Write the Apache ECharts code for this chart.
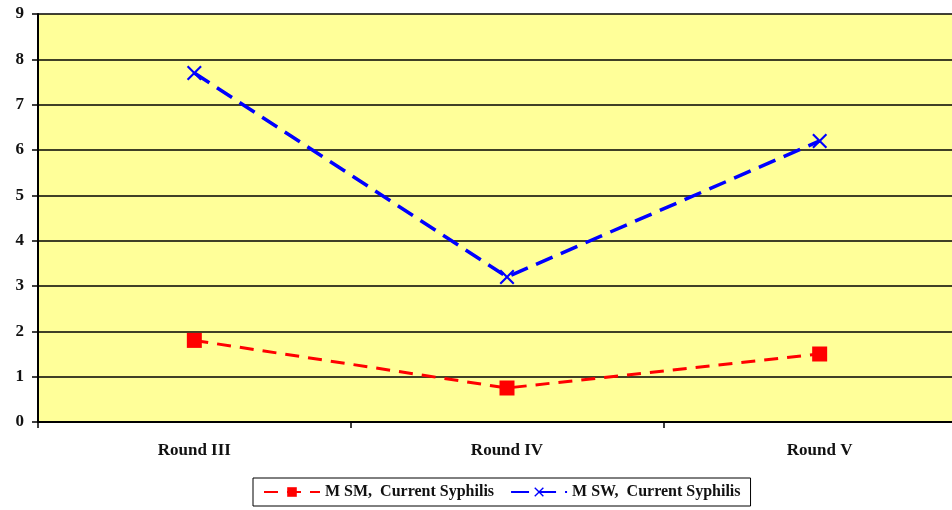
<!DOCTYPE html>
<html><head><meta charset="utf-8">
<script src="https://cdn.jsdelivr.net/npm/echarts@6/dist/echarts.min.js"></script>
<style>html,body{margin:0;padding:0;background:#fff;overflow:hidden}#c{width:976px;height:510px}</style>
</head><body><div id="c"></div>
<script>
const categories = ['Round III', 'Round IV', 'Round V'];
const msmValues = [1.8, 0.75, 1.5];
const mswValues = [7.7, 3.2, 6.2];
const yTicks = [0, 9, 1];
const seriesNames = ['M SM,  Current Syphilis', 'M SW,  Current Syphilis'];

const font = '"Liberation Serif", "Times New Roman", serif';
const crossPath = 'path://M0,1 L1,0 L5,4 L9,0 L10,1 L6,5 L10,9 L9,10 L5,6 L1,10 L0,9 L4,5 Z';

const chart = echarts.init(document.getElementById('c'));
chart.setOption({
  animation: false,
  backgroundColor: '#fff',
  grid: { left: 38, right: 0, top: 14, bottom: 88, show: true, backgroundColor: '#FFFF99', borderWidth: 0 },
  xAxis: {
    type: 'category', data: categories, boundaryGap: true,
    axisLine: { lineStyle: { color: '#000', width: 2 } },
    axisTick: { show: true, length: 6, lineStyle: { color: '#000', width: 1.5 } },
    axisLabel: { color: '#111', fontFamily: font, fontWeight: 'bold', fontSize: 17, margin: 20 }
  },
  yAxis: {
    type: 'value', min: yTicks[0], max: yTicks[1], interval: yTicks[2],
    axisLine: { show: true, lineStyle: { color: '#000', width: 2 } },
    axisTick: { show: true, length: 6, lineStyle: { color: '#000', width: 1.5 } },
    splitLine: { lineStyle: { color: '#000', width: 1.5 } },
    axisLabel: { color: '#111', fontFamily: font, fontWeight: 'bold', fontSize: 17, margin: 14 }
  },
  legend: {
    top: 478, left: 253,
    borderColor: '#000', borderWidth: 1, padding: [6, 10],
    itemWidth: 56, itemHeight: 12, itemGap: 16,
    textStyle: { color: '#111', fontFamily: font, fontWeight: 'bold', fontSize: 16 },
    data: seriesNames
  },
  series: [
    {
      name: seriesNames[0], type: 'line', data: msmValues,
      symbol: 'rect', symbolSize: 15,
      lineStyle: { color: '#FF0000', width: 3, type: [14, 9] },
      itemStyle: { color: '#FF0000' }
    },
    {
      name: seriesNames[1], type: 'line', data: mswValues,
      symbol: crossPath, symbolSize: 15,
      lineStyle: { color: '#0000FF', width: 3.5, type: [18, 9] },
      itemStyle: { color: '#0000FF' }
    }
  ]
});
</script></body></html>
